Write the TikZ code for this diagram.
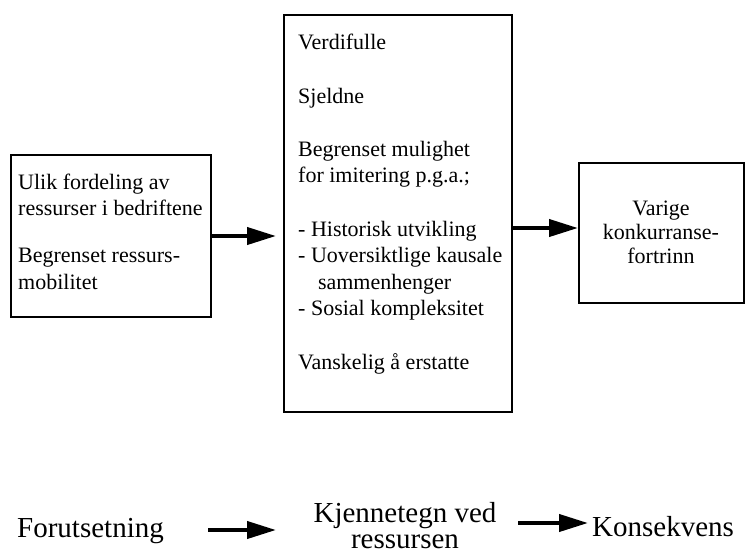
\documentclass[tikz,border=0pt]{standalone}
\usepackage{fontspec}
\setmainfont{Liberation Serif}
\usetikzlibrary{arrows.meta}
\begin{document}
\begin{tikzpicture}[x=1pt,y=-1pt,
 box/.style={draw,line width=2pt,inner sep=0pt},
 txt/.style={inner sep=0pt, font=\fontsize{22}{26.6}\selectfont, align=left, anchor=base west},
 ctxt/.style={inner sep=0pt, font=\fontsize{22}{24}\selectfont, align=center, anchor=base},
 big/.style={inner sep=0pt, font=\fontsize{29}{26}\selectfont, align=center, anchor=base},
 conn/.style={line width=4pt, -{Triangle[length=29pt,width=17pt]}},
]
\useasboundingbox (0,0) rectangle (748,558);
% boxes
\node[box, minimum width=200pt, minimum height=162pt] (left) at (111,236) {};
\node[box, minimum width=228pt, minimum height=397pt] (mid) at (398,213.5) {};
\node[box, minimum width=165pt, minimum height=140pt] (right) at (661.5,233) {};
% texts (base anchor = baseline of the last line)
\node[txt] (ltxt) at (18,289) {Ulik fordeling av\\ressurser i bedriftene\\[20pt]Begrenset ressurs-\\mobilitet};
\node[txt] (mtxt) at (298,369) {Verdifulle\\[26.6pt]Sjeldne\\[26.6pt]Begrenset mulighet\\for imitering p.g.a.;\\[26.6pt]- Historisk utvikling\\- Uoversiktlige kausale\\\hspace*{0.9em}sammenhenger\\- Sosial kompleksitet\\[26.6pt]Vanskelig å erstatte};
\node[ctxt] (rtxt) at (661,263) {Varige\\konkurranse-\\fortrinn};
% connectors
\draw[conn, shorten >=7pt] (left.east) -- (left.east -| mid.west);
\draw[conn] ([yshift=5pt]right.west -| mid.east) -- ([yshift=5pt]right.west);
% legend
\node[big, anchor=base west] (forut) at (17,537) {Forutsetning};
\node[big] (kjenn) at (405,548) {Kjennetegn ved\\ressursen};
\node[big, anchor=base west] (kons) at (592,536) {Konsekvens};
\coordinate (a1s) at (208,530);
\coordinate (a1e) at (276,530);
\coordinate (a2s) at (518,523);
\coordinate (a2e) at (588,523);
\draw[conn] (a1s) -- (a1e);
\draw[conn] (a2s) -- (a2e);
\end{tikzpicture}
\end{document}
